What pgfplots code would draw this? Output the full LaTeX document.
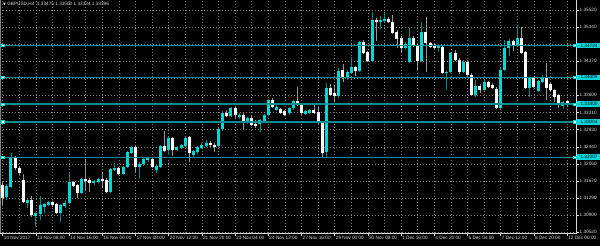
\documentclass[border=0pt]{standalone}
\usepackage{pgfplots}
\pgfplotsset{compat=1.18}
\usepackage{pgfplotstable}
\usepackage{fontspec}
\setmainfont{Liberation Sans}
\newfontfamily\symfont{DejaVu Sans}
\definecolor{bullbody}{RGB}{0,215,215}
\definecolor{bullwick}{RGB}{0,140,140}
\definecolor{bearwick}{RGB}{150,150,150}
\definecolor{levelline}{RGB}{0,140,145}
\definecolor{levelbox}{RGB}{0,215,220}
\definecolor{gridc}{RGB}{125,125,125}
\definecolor{txt}{RGB}{215,215,215}

\pgfplotstableread{
x o h l c
1 1.31313 1.31605 1.31245 1.31560
2 1.31538 1.32303 1.31515 1.32213
6 1.31178 1.31268 1.31065 1.31245
8 1.30885 1.30975 1.30638 1.30953
9 1.30930 1.31335 1.30795 1.31133
10 1.31088 1.31178 1.30953 1.31155
11 1.31133 1.31223 1.31110 1.31200
14 1.30953 1.31155 1.30750 1.31133
15 1.31110 1.31245 1.31065 1.31178
16 1.31178 1.31875 1.31155 1.31650
19 1.31403 1.31740 1.31380 1.31718
22 1.31628 1.31695 1.31583 1.31673
23 1.31650 1.31740 1.31628 1.31718
26 1.31425 1.31965 1.31403 1.31943
27 1.31920 1.32078 1.31898 1.31965
29 1.31830 1.32010 1.31808 1.31988
30 1.31988 1.32348 1.31965 1.32325
31 1.32303 1.32460 1.32280 1.32438
33 1.31988 1.32100 1.31718 1.32055
34 1.32055 1.32213 1.32010 1.32168
35 1.32145 1.32213 1.32100 1.32190
37 1.31920 1.32033 1.31853 1.32010
38 1.31988 1.32483 1.31965 1.32460
40 1.32370 1.32663 1.32258 1.32640
42 1.32370 1.32460 1.32348 1.32438
43 1.32415 1.32505 1.32393 1.32483
44 1.32460 1.32663 1.32438 1.32640
46 1.32258 1.32370 1.32213 1.32348
47 1.32325 1.32460 1.32280 1.32438
48 1.32415 1.32528 1.32393 1.32483
49 1.32460 1.32595 1.32438 1.32528
52 1.32460 1.32865 1.32438 1.32843
53 1.32843 1.33248 1.32798 1.33203
55 1.33135 1.33338 1.33113 1.33315
57 1.33113 1.33203 1.33068 1.33158
59 1.33000 1.33113 1.32955 1.33090
62 1.32955 1.33068 1.32775 1.33045
63 1.33023 1.33180 1.32978 1.33158
64 1.33158 1.33518 1.33135 1.33495
66 1.33270 1.33383 1.33248 1.33338
69 1.33203 1.33338 1.33158 1.33315
70 1.33315 1.33495 1.33270 1.33473
73 1.33180 1.33270 1.33158 1.33248
74 1.33203 1.33293 1.33180 1.33270
78 1.32325 1.33878 1.32213 1.33765
81 1.33585 1.34215 1.33540 1.34148
83 1.33990 1.34170 1.33945 1.34125
84 1.34103 1.34463 1.34080 1.34238
86 1.34148 1.34823 1.34125 1.34800
89 1.34373 1.35475 1.34350 1.35295
91 1.35250 1.35385 1.35093 1.35295
92 1.35273 1.35475 1.35250 1.35318
97 1.34665 1.34800 1.34620 1.34755
98 1.34350 1.35115 1.34328 1.34890
101 1.34373 1.35250 1.34350 1.35025
105 1.34665 1.34755 1.34575 1.34733
107 1.34103 1.34148 1.33720 1.34125
108 1.34125 1.34575 1.34103 1.34553
111 1.34125 1.34395 1.34103 1.34350
114 1.33608 1.33945 1.33563 1.33810
116 1.33720 1.33945 1.33698 1.33900
120 1.33315 1.34215 1.33293 1.34170
121 1.34170 1.34845 1.34148 1.34665
122 1.34665 1.34868 1.34485 1.34823
124 1.34710 1.35183 1.34688 1.34890
127 1.33765 1.34013 1.33563 1.33990
129 1.33698 1.33945 1.33675 1.33923
130 1.33900 1.34058 1.33878 1.34013
135 1.33360 1.33473 1.33293 1.33450
}\bull

\pgfplotstableread{
x o h l c
0 1.31583 1.31650 1.31133 1.31290
3 1.32213 1.32235 1.31920 1.31965
4 1.31965 1.32010 1.31808 1.31853
5 1.31695 1.31830 1.31178 1.31200
7 1.31245 1.31335 1.30863 1.30908
12 1.31200 1.31223 1.31088 1.31133
13 1.31155 1.31178 1.30930 1.30953
17 1.31650 1.31673 1.31538 1.31560
18 1.31583 1.31605 1.31290 1.31403
20 1.31718 1.32168 1.31470 1.31673
21 1.31695 1.31740 1.31425 1.31628
24 1.31718 1.31875 1.31538 1.31673
25 1.31695 1.31740 1.31403 1.31425
28 1.31965 1.31988 1.31808 1.31830
32 1.32438 1.32460 1.31853 1.31988
36 1.32168 1.32213 1.31965 1.31988
39 1.32460 1.32798 1.32325 1.32348
41 1.32640 1.32663 1.32235 1.32370
45 1.32663 1.32685 1.32100 1.32303
50 1.32528 1.32573 1.32438 1.32483
51 1.32483 1.32528 1.32325 1.32438
54 1.33203 1.33270 1.33113 1.33135
56 1.33315 1.33360 1.33090 1.33158
58 1.33158 1.33203 1.32820 1.32978
60 1.33090 1.33135 1.32910 1.32933
61 1.32955 1.33045 1.32865 1.32910
65 1.33495 1.33540 1.33315 1.33338
67 1.33293 1.33315 1.33180 1.33203
68 1.33248 1.33270 1.33135 1.33158
71 1.33473 1.33788 1.33360 1.33383
72 1.33383 1.33405 1.33158 1.33203
75 1.33270 1.33383 1.33180 1.33203
76 1.33225 1.33360 1.32955 1.32978
77 1.32978 1.33000 1.32213 1.32303
79 1.33765 1.33855 1.33585 1.33608
80 1.33653 1.33833 1.33450 1.33585
82 1.34170 1.34305 1.33900 1.34013
85 1.34238 1.34260 1.34035 1.34148
87 1.34800 1.34845 1.34530 1.34553
88 1.34575 1.34598 1.34350 1.34373
90 1.35295 1.35340 1.34823 1.35250
93 1.35318 1.35363 1.35228 1.35250
94 1.35250 1.35408 1.34980 1.35003
95 1.35025 1.35070 1.34665 1.34868
96 1.34890 1.34935 1.34575 1.34665
99 1.34890 1.34935 1.34688 1.34710
100 1.34733 1.34755 1.34170 1.34373
102 1.35025 1.35363 1.34125 1.34778
103 1.34778 1.34800 1.34665 1.34688
104 1.34733 1.34755 1.34643 1.34665
106 1.34688 1.34710 1.34080 1.34103
109 1.34553 1.34620 1.34373 1.34395
110 1.34395 1.34440 1.34080 1.34125
112 1.34350 1.34395 1.34035 1.34058
113 1.34058 1.34103 1.33585 1.33608
115 1.33810 1.33855 1.33653 1.33720
117 1.33900 1.33923 1.33765 1.33788
118 1.33833 1.33878 1.33743 1.33765
119 1.33743 1.33788 1.33293 1.33315
123 1.34823 1.34845 1.34598 1.34710
125 1.34890 1.35138 1.34530 1.34553
126 1.34575 1.34598 1.33743 1.33765
128 1.33990 1.34013 1.33765 1.33788
131 1.33990 1.34328 1.33495 1.33765
132 1.33855 1.33878 1.33698 1.33720
133 1.33720 1.33743 1.33450 1.33563
134 1.33608 1.33630 1.33315 1.33428
136 1.33475 1.33500 1.33334 1.33396
}\bear

\pgfplotstableread{
v
1.34724
1.34005
1.33400
1.33004
1.32207
}\levels

\begin{document}
\begin{tikzpicture}
\fill[black] (0,0) rectangle (600pt,-246pt);
\begin{axis}[
  at={(0,0)}, anchor=north west,
  scale only axis, width=576.5pt, height=233pt,
  xmin=-0.65, xmax=138.27,
  ymin=1.30503, ymax=1.35745,
  axis x line*=bottom, axis y line*=right,
  axis line style={draw=txt, line width=0.6pt},
  every tick label/.append style={font=\fontsize{4.7}{5}\selectfont, text=txt},
  tick style={draw=txt, line width=0.5pt},
  tick align=outside,
  major tick length=2.5pt,
  minor tick length=0pt,
  xtick={0,8,...,136},
  xticklabels={10 Nov 2017,13 Nov 08:00,14 Nov 16:00,16 Nov 00:00,17 Nov 08:00,20 Nov 12:00,21 Nov 20:00,23 Nov 04:00,24 Nov 12:00,27 Nov 16:00,29 Nov 00:00,30 Nov 08:00,1 Dec 16:00,4 Dec 20:00,6 Dec 04:00,7 Dec 12:00,8 Dec 20:00,12 Dec 00:00},
  xticklabel style={anchor=north west, inner sep=0.5pt, xshift=0.5pt},
  minor x tick num=1,
  ytick={1.30520,1.30900,1.31290,1.31670,1.32060,1.32440,1.32830,1.33210,1.33600,1.33990,1.34370,1.34760,1.35140,1.35520},
  yticklabels={1.30520,1.30900,1.31290,1.31670,1.32060,1.32440,1.32830,1.33210,1.33600,{},1.34370,{},1.35140,1.35520},
  yticklabel style={anchor=west, inner sep=0.5pt},
  xmajorgrids, xminorgrids, ymajorgrids,
  major grid style={draw=gridc, dash pattern=on 1pt off 2pt, line width=0.5pt},
  minor grid style={draw=gridc, dash pattern=on 1pt off 2pt, line width=0.5pt},
  clip=false,
]
% wicks
\addplot[draw=none, mark=none, forget plot,
  error bars/.cd, y dir=plus, y explicit, error mark=none,
  error bar style={draw=bullwick, solid, line width=0.8pt}]
  table[x=x, y=l, y error expr=\thisrow{h}-\thisrow{l}] {\bull};
\addplot[draw=none, mark=none, forget plot,
  error bars/.cd, y dir=plus, y explicit, error mark=none,
  error bar style={draw=bearwick, solid, line width=0.8pt}]
  table[x=x, y=l, y error expr=\thisrow{h}-\thisrow{l}] {\bear};
% bodies
\addplot[draw=none, mark=none, forget plot,
  error bars/.cd, y dir=plus, y explicit, error mark=none,
  error bar style={draw=bullbody, solid, line width=3pt, line cap=butt}]
  table[x=x, y=o, y error expr=\thisrow{c}-\thisrow{o}] {\bull};
\addplot[draw=none, mark=none, forget plot,
  error bars/.cd, y dir=plus, y explicit, error mark=none,
  error bar style={draw=white, solid, line width=3pt, line cap=butt}]
  table[x=x, y=c, y error expr=\thisrow{o}-\thisrow{c}] {\bear};
% horizontal levels as horizontal error bars spanning the plot
\addplot[draw=none, mark=none, forget plot,
  error bars/.cd, x dir=plus, x explicit, error mark=none,
  error bar style={draw=levelline, solid, line width=1.5pt}]
  table[x expr=-0.65, y=v, x error expr=138.92] {\levels};
% label boxes on the price scale
\addplot[only marks, mark=none, forget plot,
  nodes near coords, point meta=explicit symbolic,
  every node near coord/.style={anchor=west, fill=levelbox, text=black,
    font=\fontsize{4.7}{5}\selectfont, inner xsep=1.2pt, inner ysep=1.1pt,
    minimum width=24pt, xshift=0.3pt}]
  table[x expr=138.27, y=v, meta=v] {\levels};
% selection handles
\addplot[only marks, mark=square*, mark size=1.2pt, mark options={fill=white, draw=levelbox, line width=0.6pt}, forget plot]
  table[x expr=0.07, y=v] {\levels};
\addplot[only marks, mark=square*, mark size=1.2pt, mark options={fill=white, draw=levelbox, line width=0.6pt}, forget plot]
  table[x expr=137.9, y=v] {\levels};
\draw[draw=gray, line width=1.6pt] (rel axis cs:0,0) -- (rel axis cs:0,1);
\end{axis}
\node[anchor=north west, inner sep=0pt, text=txt, font=\fontsize{4.7}{5}\selectfont] at (3pt,-1.8pt)
  {{\symfont\fontsize{3.6}{4}\selectfont ▼}\ GBPUSD,H4\ \ 1.33475 1.33500 1.33334 1.33396};
\pgfresetboundingbox
\path (0,0) rectangle (600pt,-246pt);
\end{tikzpicture}
\end{document}
